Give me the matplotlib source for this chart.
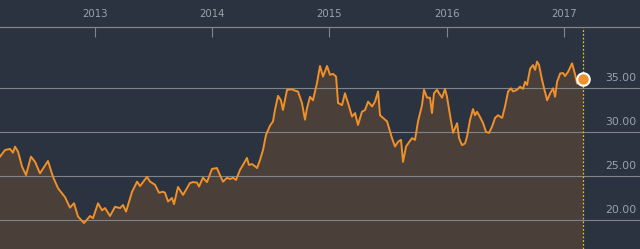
import matplotlib
matplotlib.use("Agg")
import matplotlib.pyplot as plt
import matplotlib.transforms as mtransforms

# ---- data (decimal year, price) ----
dates = [
    2012.190, 2012.233, 2012.275, 2012.301, 2012.318, 2012.344, 2012.378, 2012.412,
    2012.454, 2012.489, 2012.531, 2012.599, 2012.642, 2012.685, 2012.744, 2012.787,
    2012.821, 2012.855, 2012.906, 2012.958, 2012.983, 2013.026, 2013.060, 2013.086,
    2013.128, 2013.171, 2013.214, 2013.239, 2013.265, 2013.316, 2013.359, 2013.384,
    2013.444, 2013.470, 2013.512, 2013.546, 2013.580, 2013.597, 2013.623, 2013.657,
    2013.674, 2013.708, 2013.751, 2013.810, 2013.836, 2013.870, 2013.887, 2013.921,
    2013.955, 2013.998, 2014.040, 2014.066, 2014.092, 2014.126, 2014.151, 2014.177,
    2014.203, 2014.237, 2014.262, 2014.296, 2014.313, 2014.339, 2014.365, 2014.382,
    2014.407, 2014.433, 2014.458, 2014.492, 2014.518, 2014.535, 2014.561, 2014.586,
    2014.603, 2014.638, 2014.680, 2014.706, 2014.731, 2014.765, 2014.791, 2014.808,
    2014.834, 2014.859, 2014.893, 2014.919, 2014.945, 2014.979, 2015.004, 2015.030,
    2015.056, 2015.073, 2015.107, 2015.132, 2015.158, 2015.192, 2015.218, 2015.243,
    2015.277, 2015.303, 2015.329, 2015.363, 2015.388, 2015.414, 2015.431, 2015.457,
    2015.491, 2015.533, 2015.559, 2015.585, 2015.610, 2015.627, 2015.653, 2015.687,
    2015.704, 2015.729, 2015.755, 2015.789, 2015.806, 2015.832, 2015.857, 2015.874,
    2015.891, 2015.917, 2015.934, 2015.960, 2015.985, 2016.002, 2016.028, 2016.054,
    2016.088, 2016.105, 2016.130, 2016.156, 2016.173, 2016.199, 2016.224, 2016.241,
    2016.258, 2016.284, 2016.310, 2016.335, 2016.361, 2016.386, 2016.412, 2016.437,
    2016.472, 2016.497, 2016.523, 2016.548, 2016.566, 2016.600, 2016.625, 2016.651,
    2016.668, 2016.685, 2016.711, 2016.736, 2016.753, 2016.770, 2016.787, 2016.813,
    2016.830, 2016.856, 2016.882, 2016.907, 2016.924, 2016.941, 2016.967, 2016.992,
    2017.009, 2017.035, 2017.069, 2017.095, 2017.112, 2017.138, 2017.163,
]
prices = [
    27.20, 27.95, 28.07, 27.65, 28.33, 27.76, 26.06, 25.10,
    27.20, 26.60, 25.30, 26.70, 24.90, 23.60, 22.60, 21.40,
    21.90, 20.40, 19.65, 20.45, 20.20, 21.90, 21.10, 21.35,
    20.45, 21.50, 21.35, 21.70, 20.95, 23.20, 24.35, 23.85,
    24.90, 24.35, 24.00, 23.10, 23.20, 23.10, 22.10, 22.50,
    21.80, 23.75, 22.85, 24.20, 24.30, 24.25, 23.80, 24.80,
    24.30, 25.80, 25.90, 25.10, 24.35, 24.80, 24.65, 24.80,
    24.55, 25.70, 26.25, 27.05, 26.25, 26.35, 26.10, 25.90,
    26.80, 27.95, 29.65, 30.70, 31.20, 32.50, 34.10, 33.60,
    32.50, 34.80, 34.85, 34.70, 34.60, 33.30, 31.40, 32.70,
    34.00, 33.60, 35.55, 37.50, 36.30, 37.50, 36.50, 36.60,
    36.30, 33.30, 33.05, 34.40, 33.30, 31.75, 32.15, 30.80,
    32.30, 32.50, 33.45, 32.90, 33.45, 34.60, 31.90, 31.60,
    31.20, 29.30, 28.35, 28.90, 29.10, 26.60, 28.35, 29.00,
    29.30, 29.10, 31.20, 33.05, 34.80, 33.90, 33.90, 32.15,
    34.40, 34.80, 34.40, 33.90, 34.90, 34.00, 31.90, 29.90,
    31.00, 29.30, 28.50, 28.70, 29.50, 31.40, 32.60, 31.90,
    32.30, 31.70, 31.00, 30.00, 29.90, 30.60, 31.60, 31.90,
    31.60, 32.90, 34.60, 34.96, 34.60, 34.80, 35.15, 34.90,
    35.70, 35.35, 37.20, 37.60, 37.05, 38.00, 37.60, 35.90,
    34.96, 33.60, 34.40, 34.96, 34.00, 35.70, 36.65, 36.70,
    36.35, 36.85, 37.80, 36.50, 35.50, 35.70, 36.00,
]
year_ticks = [2013, 2014, 2015, 2016, 2017]
year_labels = ["2013", "2014", "2015", "2016", "2017"]
price_ticks = [20, 25, 30, 35]
price_labels = ["20.00", "25.00", "30.00", "35.00"]

BG = "#2a333f"
FILL = "#4a4039"
LINE = "#f0902a"
GRID = "#80858b"
TXT = "#9aa2ab"

fig = plt.figure(figsize=(6.40, 2.49), dpi=100, facecolor=BG)
ax = fig.add_axes([0, 0, 1, (249 - 27) / 249])
ax.set_facecolor(BG)

ax.set_xlim(2012.190, 2017.648)
ax.set_ylim(16.70, 41.93)

# grid
for v in price_ticks:
    ax.axhline(v, color=GRID, lw=0.8, zorder=2)

ax.fill_between(dates, prices, 0, color=FILL, lw=0, zorder=1)
ax.plot(dates, prices, color=LINE, lw=1.4, zorder=3)

# last value marker and dotted vertical line
ax.axvline(dates[-1], color="#dcbf3c", lw=0.9, ls=(0, (1.5, 1.5)), zorder=2.5)
ax.plot([dates[-1]], [prices[-1]], "o", ms=9, mfc=LINE, mec="white", mew=1.5, zorder=5)

# axes styling
for s in ["left", "right", "bottom"]:
    ax.spines[s].set_visible(False)
ax.spines["top"].set_color(GRID)
ax.spines["top"].set_linewidth(0.9)

ax.xaxis.tick_top()
ax.set_xticks(year_ticks)
ax.set_xticklabels(year_labels)
ax.tick_params(axis="x", direction="in", length=7.2, width=0.8, color=GRID,
               pad=6, labelsize=7.3, labelcolor=TXT)
ax.set_yticks([])

trans = mtransforms.blended_transform_factory(ax.transAxes, ax.transData)
offset = mtransforms.ScaledTranslation(0, 3.5 / 72, fig.dpi_scale_trans)
for v, lab in zip(price_ticks, price_labels):
    ax.text(0.995, v, lab, transform=trans + offset, ha="right", va="bottom",
            fontsize=7.8, color=TXT, zorder=6)

fig.savefig("out.png", dpi=100, facecolor=BG)
